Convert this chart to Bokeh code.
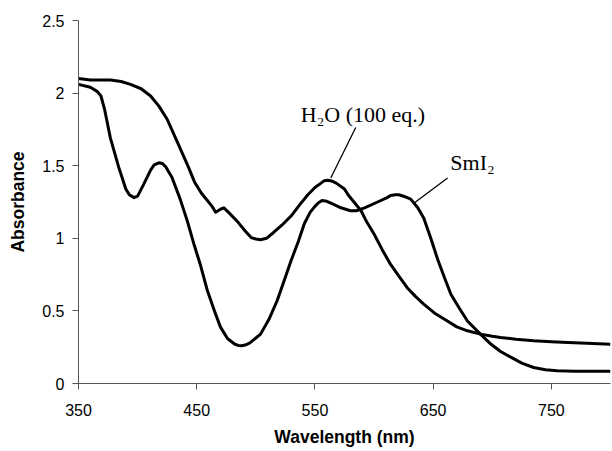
from bokeh.plotting import figure
from bokeh.models import Range1d, FixedTicker, Label, ColumnDataSource
from bokeh.embed import file_html
from bokeh.resources import INLINE

# --- data ---
smi2_nm = [350, 360, 366, 369, 372, 377, 384, 390, 393, 397, 400, 405, 411, 414, 418, 421,
           424, 429, 436, 442, 448, 453, 459, 465, 470, 476, 482, 485, 488, 491, 495, 504,
           511, 518, 524, 530, 536, 541, 546, 550, 553, 556, 560, 564, 572, 580, 585, 592,
           603, 611, 614, 618, 621, 625, 631, 637, 642, 648, 654, 660, 665, 672, 679, 685,
           690, 699, 707, 716, 725, 735, 745, 755, 770, 785, 800]
smi2_abs = [2.06, 2.04, 2.01, 1.98, 1.89, 1.69, 1.49, 1.34, 1.30, 1.28, 1.29, 1.37, 1.47, 1.505, 1.52, 1.515,
            1.49, 1.42, 1.27, 1.12, 0.95, 0.82, 0.64, 0.50, 0.39, 0.31, 0.272, 0.262, 0.26, 0.265, 0.28, 0.34,
            0.44, 0.57, 0.71, 0.85, 0.98, 1.10, 1.18, 1.22, 1.245, 1.26, 1.255, 1.24, 1.21, 1.19, 1.19, 1.21,
            1.25, 1.28, 1.295, 1.30, 1.30, 1.29, 1.27, 1.21, 1.14, 1.00, 0.85, 0.72, 0.615, 0.52, 0.43, 0.38,
            0.34, 0.27, 0.22, 0.18, 0.14, 0.11, 0.095, 0.087, 0.085, 0.084, 0.085]

h2o_nm = [350, 360, 370, 377, 386, 394, 403, 411, 418, 425, 431, 437, 443, 448, 454,
          459, 463, 466, 470, 473, 478, 485, 491, 496, 500, 504, 509, 515, 522, 530, 537,
          544, 550, 556, 558, 561, 564, 568, 575, 578, 583, 589, 594, 600, 607, 614, 621, 628,
          635, 642, 652, 662, 670, 679, 690, 700, 707, 720, 735, 750, 764, 780, 800]
h2o_abs = [2.10, 2.09, 2.09, 2.09, 2.08, 2.06, 2.03, 1.98, 1.91, 1.82, 1.71, 1.60, 1.49, 1.39, 1.31,
           1.26, 1.22, 1.18, 1.20, 1.21, 1.17, 1.11, 1.05, 1.005, 0.995, 0.99, 1.00, 1.04, 1.09, 1.155, 1.23,
           1.30, 1.35, 1.385, 1.397, 1.40, 1.395, 1.38, 1.34, 1.30, 1.25, 1.19, 1.11, 1.03, 0.92, 0.82, 0.74, 0.66,
           0.60, 0.547, 0.48, 0.43, 0.39, 0.363, 0.34, 0.325, 0.317, 0.305, 0.294, 0.288, 0.283, 0.277, 0.271]

x_ticks = [350, 450, 550, 650, 750]
y_ticks = [0, 0.5, 1, 1.5, 2, 2.5]
y_tick_labels = {0: "0", 0.5: "0.5", 1: "1", 1.5: "1.5", 2: "2", 2.5: "2.5"}

label_h2o = "H\u2082O (100 eq.)"
label_smi2 = "SmI\u2082"
# label anchor (nm, absorbance) and leader line ends
h2o_label_pos = (538.0, 1.85)
h2o_leader_x = [584.5, 563.4]
h2o_leader_y = [1.763, 1.415]
smi2_label_pos = (664.5, 1.52)
smi2_leader_x = [662.2, 634.5]
smi2_leader_y = [1.415, 1.247]

p = figure(width=612, height=451, output_backend="svg", toolbar_location=None,
           x_range=Range1d(350, 800), y_range=Range1d(0, 2.5),
           min_border_left=78, min_border_right=2, min_border_top=20, min_border_bottom=68)
p.outline_line_color = None
p.xgrid.visible = False
p.ygrid.visible = False
p.background_fill_color = "white"
p.border_fill_color = "white"

src_s = ColumnDataSource(dict(x=smi2_nm, y=smi2_abs))
src_h = ColumnDataSource(dict(x=h2o_nm, y=h2o_abs))
p.line("x", "y", source=src_s, line_color="black", line_width=3, line_join="round")
p.line("x", "y", source=src_h, line_color="black", line_width=3, line_join="round")

p.line(h2o_leader_x, h2o_leader_y, line_color="black", line_width=1.3)
p.line(smi2_leader_x, smi2_leader_y, line_color="black", line_width=1.3)

for txt, pos in [(label_h2o, h2o_label_pos), (label_smi2, smi2_label_pos)]:
    p.add_layout(Label(x=pos[0], y=pos[1], text=txt, text_font="Liberation Serif",
                       text_font_size="22px", text_color="black",
                       text_align="left", text_baseline="alphabetic"))

for ax in (p.xaxis[0], p.yaxis[0]):
    ax.axis_line_color = "#555555"
    ax.axis_line_width = 1
    ax.major_tick_line_color = "#555555"
    ax.major_tick_out = 6
    ax.major_tick_in = 0
    ax.minor_tick_line_color = None
    ax.major_label_text_font = "Liberation Sans"
    ax.major_label_text_font_size = "16px"
    ax.major_label_text_color = "black"
    ax.axis_label_text_font = "Liberation Sans"
    ax.axis_label_text_font_style = "bold"
    ax.axis_label_text_font_size = "17.5px"
    ax.axis_label_text_color = "black"

p.xaxis.ticker = FixedTicker(ticks=x_ticks)
p.yaxis.ticker = FixedTicker(ticks=y_ticks)
p.yaxis.major_label_overrides = y_tick_labels
p.xaxis.axis_label = "Wavelength (nm)"
p.yaxis.axis_label = "Absorbance"
p.xaxis.major_label_standoff = 14
p.xaxis.axis_label_standoff = 8
p.yaxis.major_label_standoff = 8
p.yaxis.axis_label_standoff = 11

open("out.html", "w").write(file_html(p, INLINE))
